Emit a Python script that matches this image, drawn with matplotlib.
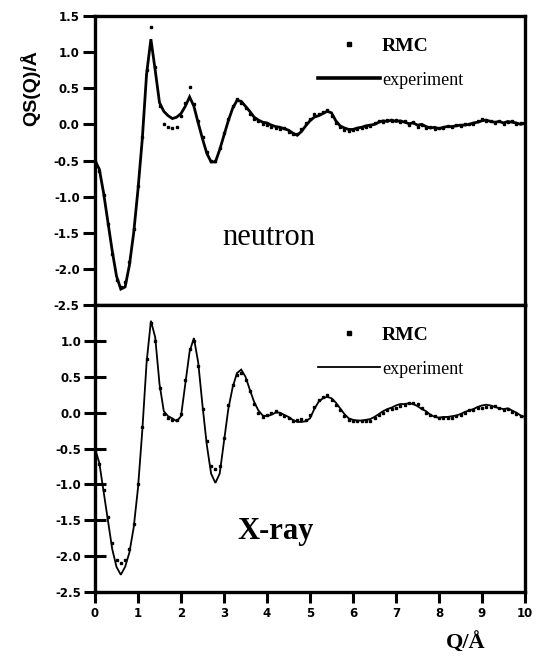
import numpy as np
import matplotlib
matplotlib.use("Agg")
import matplotlib.pyplot as plt
from matplotlib.lines import Line2D

# Q grid (1/Å), sampled every 0.1
q = np.linspace(0.0, 10.0, 101)

neutron_exp = [
    -0.50, -0.62, -0.95, -1.35, -1.75, -2.10, -2.28, -2.25, -1.95, -1.50,
    -0.90, -0.20, 0.70, 1.18, 0.75, 0.30, 0.18, 0.12, 0.08, 0.10,
    0.15, 0.25, 0.38, 0.25, 0.02, -0.20, -0.40, -0.52, -0.52, -0.35,
    -0.15, 0.05, 0.22, 0.33, 0.32, 0.25, 0.18, 0.10, 0.06, 0.03,
    0.02, -0.01, -0.03, -0.04, -0.06, -0.08, -0.12, -0.15, -0.10, -0.02,
    0.05, 0.10, 0.12, 0.15, 0.18, 0.16, 0.05, -0.02, -0.05, -0.07,
    -0.07, -0.05, -0.04, -0.02, -0.01, 0.00, 0.03, 0.05, 0.04, 0.06,
    0.04, 0.05, 0.03, 0.01, 0.02, -0.01, 0.00, -0.03, -0.05, -0.04,
    -0.06, -0.04, -0.03, -0.03, -0.02, -0.01, -0.01, 0.00, 0.02, 0.03,
    0.05, 0.06, 0.04, 0.03, 0.04, 0.02, 0.04, 0.03, 0.02, 0.00,
    0.02,
]

neutron_rmc = [
    -0.52, -0.65, -0.98, -1.38, -1.80, -2.15, -2.25, -2.18, -1.90, -1.45,
    -0.85, -0.18, 0.75, 1.35, 0.80, 0.25, 0.00, -0.03, -0.05, -0.03,
    0.12, 0.30, 0.52, 0.28, 0.05, -0.18, -0.38, -0.50, -0.50, -0.33,
    -0.12, 0.08, 0.25, 0.35, 0.30, 0.22, 0.14, 0.08, 0.04, 0.00,
    -0.01, -0.03, -0.05, -0.06, -0.05, -0.10, -0.14, -0.13, -0.06, 0.02,
    0.08, 0.14, 0.15, 0.17, 0.20, 0.12, 0.02, -0.04, -0.08, -0.09,
    -0.08, -0.06, -0.05, -0.03, -0.02, 0.02, 0.04, 0.03, 0.06, 0.04,
    0.06, 0.03, 0.05, -0.01, 0.03, -0.03, -0.01, -0.05, -0.03, -0.06,
    -0.05, -0.05, -0.02, -0.04, -0.01, -0.02, 0.00, 0.01, 0.01, 0.04,
    0.07, 0.04, 0.05, 0.02, 0.05, 0.01, 0.03, 0.04, 0.01, 0.02,
    0.00,
]

xray_exp = [
    -0.50, -0.70, -1.10, -1.50, -1.90, -2.15, -2.26, -2.15, -1.95, -1.60,
    -1.05, -0.25, 0.70, 1.28, 1.05, 0.40, 0.02, -0.05, -0.08, -0.12,
    -0.05, 0.40, 0.85, 1.04, 0.70, 0.10, -0.45, -0.85, -0.98, -0.85,
    -0.40, 0.05, 0.35, 0.55, 0.60, 0.50, 0.32, 0.15, 0.03, -0.04,
    -0.05, -0.03, 0.00, 0.00, -0.03, -0.06, -0.10, -0.13, -0.13, -0.12,
    -0.08, 0.05, 0.15, 0.20, 0.22, 0.20, 0.14, 0.06, -0.02, -0.08,
    -0.10, -0.11, -0.11, -0.10, -0.09, -0.06, -0.02, 0.02, 0.05, 0.07,
    0.10, 0.12, 0.12, 0.13, 0.12, 0.09, 0.05, 0.02, -0.03, -0.06,
    -0.07, -0.06, -0.06, -0.05, -0.04, -0.02, 0.01, 0.03, 0.05, 0.08,
    0.10, 0.11, 0.10, 0.08, 0.06, 0.05, 0.06, 0.03, 0.00, -0.04,
    -0.06,
]

xray_rmc = [
    -0.52, -0.72, -1.08, -1.45, -1.82, -2.05, -2.10, -2.05, -1.90, -1.55,
    -1.00, -0.20, 0.75, 1.25, 1.00, 0.35, -0.02, -0.08, -0.10, -0.10,
    -0.02, 0.45, 0.88, 1.00, 0.65, 0.05, -0.40, -0.75, -0.78, -0.75,
    -0.35, 0.10, 0.38, 0.52, 0.55, 0.45, 0.30, 0.12, 0.00, -0.06,
    -0.04, -0.01, 0.02, -0.02, -0.05, -0.08, -0.12, -0.10, -0.09, -0.10,
    -0.04, 0.08, 0.17, 0.22, 0.24, 0.18, 0.10, 0.03, -0.05, -0.10,
    -0.12, -0.12, -0.12, -0.12, -0.11, -0.08, -0.04, 0.00, 0.03, 0.05,
    0.07, 0.09, 0.10, 0.14, 0.14, 0.12, 0.06, 0.00, -0.04, -0.05,
    -0.08, -0.08, -0.07, -0.07, -0.05, -0.03, 0.00, 0.04, 0.04, 0.06,
    0.07, 0.08, 0.08, 0.09, 0.07, 0.04, 0.05, 0.01, -0.02, -0.05,
    -0.07,
]

panel_names = ["neutron", "X-ray"]
legend_labels = ["RMC", "experiment"]
x_ticks = [0, 1, 2, 3, 4, 5, 6, 7, 8, 9, 10]
y_ticks_top = [1.5, 1.0, 0.5, 0.0, -0.5, -1.0, -1.5, -2.0, -2.5]
y_ticks_bottom = [1.0, 0.5, 0.0, -0.5, -1.0, -1.5, -2.0, -2.5]

W, H = 537, 656
fig = plt.figure(figsize=(W / 100, H / 100), dpi=100)

left, right = 95 / W, 525 / W
ax_top = fig.add_axes([left, 1 - 305 / H, right - left, (305 - 16) / H])
ax_bot = fig.add_axes([left, 1 - 592 / H, right - left, (592 - 305) / H])

tick_font = dict(family="DejaVu Sans", weight="bold", size=8.5)
serif = "Liberation Serif"

panels = [
    (ax_top, neutron_exp, neutron_rmc, 2.0, 2.6, y_ticks_top, "out"),
    (ax_bot, xray_exp, xray_rmc, 1.3, 1.3, y_ticks_bottom, "inout"),
]

for ax, exp, rmc, lw, leg_lw, yt, ydir in panels:
    ax.plot(q, exp, color="black", lw=lw, solid_joinstyle="miter")
    ax.plot(q, rmc, ls="none", marker="s", ms=2.1, color="black", mec="black")
    ax.set_xlim(0, 10)
    ax.set_ylim(-2.5, 1.5)
    ax.set_yticks(yt)
    ax.set_yticklabels([f"{v:.1f}" for v in yt], fontdict=tick_font)
    for s in ax.spines.values():
        s.set_linewidth(2.4)
    ax.tick_params(axis="y", direction=ydir, length=9 if ydir == "out" else 16,
                   width=2.2, pad=2)

    handles = [
        Line2D([], [], ls="none", marker="s", ms=2.8, color="black"),
        Line2D([], [], color="black", lw=leg_lw),
    ]
    leg = ax.legend(handles, legend_labels, loc="upper left",
                    bbox_to_anchor=(0.518, 0.925), frameon=False,
                    handlelength=3.2, handletextpad=0.1, labelspacing=0.82,
                    borderpad=0, borderaxespad=0,
                    prop=dict(family=serif, size=14))
    t_rmc, t_exp = leg.get_texts()
    t_rmc.set_fontweight("bold")
    t_exp.set_fontsize(13)

ax_top.tick_params(axis="x", bottom=False, labelbottom=False)
ax_bot.set_xticks(x_ticks)
ax_bot.set_xticklabels([str(v) for v in x_ticks], fontdict=tick_font)
ax_bot.tick_params(axis="x", direction="out", length=8, width=2.2, pad=3)

ax_top.text(0.405, 0.235, panel_names[0], transform=ax_top.transAxes,
            ha="center", va="center", family=serif, size=22)
ax_bot.text(0.42, 0.21, panel_names[1], transform=ax_bot.transAxes,
            ha="center", va="center", family=serif, size=22, weight="bold")

fig.text(30 / W, 1 - 88 / H, "QS(Q)/Å", rotation=90, ha="center", va="center",
         family="Liberation Sans", weight="bold", size=14)
fig.text(466 / W, 1 - 643 / H, "Q/Å", ha="center", va="center",
         family=serif, weight="bold", size=16)

fig.savefig("out.png", dpi=100)
